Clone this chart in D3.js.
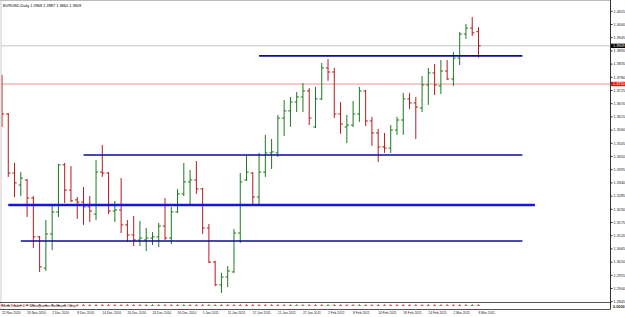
<!DOCTYPE html>
<html>
<head>
<meta charset="utf-8">
<script src="https://cdn.jsdelivr.net/npm/d3@7/dist/d3.min.js"></script>
<style>
body { margin: 0; background: #fff; }
text { font-family: "Liberation Sans", Arial, sans-serif; }
</style>
</head>
<body>
<div id="chart"></div>
<script>
// EURUSD daily bars, 22 Nov 2010 .. 8 Mar 2011
var open = [1.3767, 1.3625, 1.3379, 1.3329, 1.3350, 1.3275, 1.3113, 1.2983, 1.3125, 1.3217,
    1.3413, 1.3308, 1.3267, 1.3258, 1.3238, 1.3208, 1.3383, 1.3379, 1.3221, 1.3225,
    1.3163, 1.3121, 1.3100, 1.3100, 1.3108, 1.3113, 1.3158, 1.3108, 1.3217, 1.3292,
    1.3342, 1.3350, 1.3313, 1.3150, 1.3008, 1.2913, 1.2946, 1.2967, 1.3129, 1.3350,
    1.3379, 1.3279, 1.3383, 1.3463, 1.3463, 1.3608, 1.3638, 1.3675, 1.3696, 1.3721,
    1.3571, 1.3688, 1.3817, 1.3800, 1.3625, 1.3571, 1.3579, 1.3625, 1.3721, 1.3596,
    1.3546, 1.3488, 1.3483, 1.3558, 1.3600, 1.3688, 1.3671, 1.3650, 1.3746, 1.3796,
    1.3742, 1.3804, 1.3771, 1.3858, 1.3958, 1.3983, 1.3968]
var high = [1.3788, 1.3629, 1.3421, 1.3383, 1.3354, 1.3283, 1.3117, 1.3183, 1.3246, 1.3417,
    1.3421, 1.3408, 1.3279, 1.3321, 1.3283, 1.3433, 1.3496, 1.3383, 1.3263, 1.3358,
    1.3183, 1.3200, 1.3179, 1.3150, 1.3133, 1.3171, 1.3275, 1.3238, 1.3313, 1.3421,
    1.3392, 1.3429, 1.3317, 1.3167, 1.3013, 1.2963, 1.2992, 1.3146, 1.3379, 1.3454,
    1.3383, 1.3463, 1.3538, 1.3521, 1.3621, 1.3683, 1.3696, 1.3717, 1.3754, 1.3733,
    1.3738, 1.3838, 1.3854, 1.3817, 1.3675, 1.3621, 1.3679, 1.3738, 1.3725, 1.3613,
    1.3563, 1.3546, 1.3579, 1.3613, 1.3713, 1.3713, 1.3696, 1.3783, 1.3817, 1.3833,
    1.3850, 1.3850, 1.3883, 1.3967, 1.4000, 1.4029, 1.3987]
var low = [1.3571, 1.3363, 1.3279, 1.3283, 1.3196, 1.3067, 1.2967, 1.2971, 1.3058, 1.3196,
    1.3254, 1.3258, 1.3188, 1.3163, 1.3175, 1.3183, 1.3363, 1.3208, 1.3175, 1.3129,
    1.3092, 1.3075, 1.3075, 1.3054, 1.3079, 1.3071, 1.3100, 1.3083, 1.3213, 1.3283,
    1.3246, 1.3292, 1.3125, 1.3004, 1.2908, 1.2879, 1.2904, 1.2963, 1.3088, 1.3346,
    1.3246, 1.3246, 1.3363, 1.3396, 1.3446, 1.3533, 1.3571, 1.3633, 1.3633, 1.3579,
    1.3567, 1.3683, 1.3763, 1.3608, 1.3542, 1.3504, 1.3571, 1.3592, 1.3575, 1.3492,
    1.3425, 1.3463, 1.3463, 1.3538, 1.3538, 1.3646, 1.3521, 1.3633, 1.3663, 1.3704,
    1.3708, 1.3767, 1.3742, 1.3829, 1.3938, 1.3950, 1.3860]
var close = [1.3625, 1.3379, 1.3338, 1.3358, 1.3275, 1.3113, 1.2988, 1.3125, 1.3217, 1.3413,
    1.3308, 1.3263, 1.3258, 1.3238, 1.3221, 1.3383, 1.3379, 1.3221, 1.3225, 1.3163,
    1.3121, 1.3100, 1.3108, 1.3108, 1.3113, 1.3158, 1.3108, 1.3217, 1.3292, 1.3342,
    1.3350, 1.3313, 1.3150, 1.3008, 1.2913, 1.2946, 1.2971, 1.3129, 1.3342, 1.3383,
    1.3279, 1.3383, 1.3463, 1.3467, 1.3608, 1.3638, 1.3675, 1.3696, 1.3721, 1.3608,
    1.3688, 1.3817, 1.3800, 1.3625, 1.3583, 1.3579, 1.3625, 1.3721, 1.3596, 1.3546,
    1.3488, 1.3483, 1.3558, 1.3600, 1.3688, 1.3671, 1.3654, 1.3746, 1.3796, 1.3746,
    1.3804, 1.3771, 1.3858, 1.3958, 1.3983, 1.3963, 1.3909]

// one label every 4 bars
var dateLabels = ["22 Nov 2010", "26 Nov 2010", "2 Dec 2010", "8 Dec 2010", "14 Dec 2010",
    "20 Dec 2010", "24 Dec 2010", "30 Dec 2010", "5 Jan 2011", "11 Jan 2011", "17 Jan 2011",
    "21 Jan 2011", "27 Jan 2011", "2 Feb 2011", "8 Feb 2011", "14 Feb 2011", "18 Feb 2011",
    "24 Feb 2011", "2 Mar 2011", "8 Mar 2011"]

var priceTicks = [1.4055, 1.4000, 1.3945, 1.3890, 1.3835, 1.3780, 1.3725, 1.3670, 1.3615,
    1.3560, 1.3505, 1.3450, 1.3395, 1.3340, 1.3285, 1.3230, 1.3175, 1.3120, 1.3065,
    1.3010, 1.2955, 1.2900, 1.2845]

// horizontal lines drawn on the chart (price, first bar, last bar)
var levelPrice = [1.3867, 1.3454, 1.3246, 1.3096]
var levelFrom = [41, 13, 1, 3]
var levelTo = [83, 83, 85, 83]
var levelWidth = [1.6, 1.6, 2.6, 1.6]

var bidPrice = 1.3909
var alertPrice = 1.3750
var title = "EURUSD,Daily  1.3968 1.3987 1.3860 1.3909"
var footer = "MetaTrader 4 \u00a9 MetaQuotes Software Corp."

var width = 625
var height = 317
var axisX = 610
var plotBottom = 302.5
var subBottom = 309.5

var svg = d3.select("#chart").append("svg")
    .attr("width", width)
    .attr("height", height)
    .style("display", "block")

var xscale = d3.scaleLinear()
    .domain([0, open.length - 1])
    .range([2, 478.5])

var yscale = d3.scaleLinear()
    .domain([1.29, 1.40])
    .range([288, 24])

svg.append("clipPath").attr("id", "plot")
    .append("rect")
    .attr("x", 1).attr("y", 1)
    .attr("width", axisX - 1).attr("height", plotBottom - 1)

var plot = svg.append("g").attr("clip-path", "url(#plot)")

// bid + alert lines
plot.append("line")
    .attr("x1", 0).attr("x2", axisX)
    .attr("y1", yscale(bidPrice)).attr("y2", yscale(bidPrice))
    .attr("stroke", "#c4c4c4").attr("stroke-width", 1)
plot.append("line")
    .attr("x1", 0).attr("x2", axisX)
    .attr("y1", yscale(alertPrice)).attr("y2", yscale(alertPrice))
    .attr("stroke", "#e99494").attr("stroke-width", 1)

// OHLC bars
var bars = plot.selectAll("g.bar")
    .data(open.map(function(d, i) {
        return { i: i, o: d, h: high[i], l: low[i], c: close[i] }
    }))
    .enter()
    .append("g")
    .attr("class", "bar")
    .attr("stroke", function(d) { return d.c >= d.o ? "#1c7a1c" : "#b41c1c" })
    .attr("stroke-width", 1)

bars.append("line")
    .attr("x1", d => xscale(d.i)).attr("x2", d => xscale(d.i))
    .attr("y1", d => yscale(d.h)).attr("y2", d => yscale(d.l))
bars.append("line")
    .attr("x1", d => xscale(d.i) - 2.2).attr("x2", d => xscale(d.i))
    .attr("y1", d => yscale(d.o)).attr("y2", d => yscale(d.o))
bars.append("line")
    .attr("x1", d => xscale(d.i)).attr("x2", d => xscale(d.i) + 2.2)
    .attr("y1", d => yscale(d.c)).attr("y2", d => yscale(d.c))

// drawn levels
plot.selectAll("line.level")
    .data(levelPrice)
    .enter()
    .append("line")
    .attr("class", "level")
    .attr("x1", (d, i) => xscale(levelFrom[i]))
    .attr("x2", (d, i) => xscale(levelTo[i]))
    .attr("y1", d => yscale(d)).attr("y2", d => yscale(d))
    .attr("stroke", (d, i) => levelWidth[i] > 2 ? "#1414e6" : "#0c0c96")
    .attr("stroke-width", (d, i) => levelWidth[i])

// title
svg.append("text")
    .attr("x", 3).attr("y", 6.5)
    .attr("font-size", 3.9)
    .attr("fill", "#000")
    .text(title)

// frame
svg.append("line").attr("x1", 0).attr("x2", axisX).attr("y1", 0.5).attr("y2", 0.5)
    .attr("stroke", "#bbb")
svg.append("line").attr("x1", 1).attr("x2", 1).attr("y1", 0).attr("y2", subBottom)
    .attr("stroke", "#ccc")
svg.append("line").attr("x1", axisX + 0.5).attr("x2", axisX + 0.5).attr("y1", 0).attr("y2", subBottom)
    .attr("stroke", "#333")
svg.append("line").attr("x1", 0).attr("x2", axisX).attr("y1", plotBottom).attr("y2", plotBottom)
    .attr("stroke", "#555")
svg.append("line").attr("x1", 0).attr("x2", axisX).attr("y1", subBottom).attr("y2", subBottom)
    .attr("stroke", "#555")

// price axis
var yaxis = d3.axisRight(yscale)
    .tickValues(priceTicks)
    .tickFormat(d3.format(".4f"))
    .tickSize(2)
    .tickPadding(1)

svg.append("g")
    .attr("class", "axisY")
    .attr("transform", "translate(" + (axisX + 0.5) + ",0)")
    .call(yaxis)
    .call(g => g.select(".domain").remove())
    .call(g => g.selectAll("text").attr("font-size", 3.8).attr("fill", "#222")
        .attr("font-family", "Liberation Sans"))
    .call(g => g.selectAll("line").attr("stroke", "#333"))

// price boxes
var boxes = [[bidPrice, "#000"], [alertPrice, "#ff1010"]]
boxes.forEach(function(b) {
    svg.append("rect")
        .attr("x", axisX + 1).attr("y", yscale(b[0]) - 2.2)
        .attr("width", width - axisX - 1).attr("height", 4.4)
        .attr("fill", b[1])
    svg.append("text")
        .attr("x", axisX + 3).attr("y", yscale(b[0]) + 1.4)
        .attr("font-size", 3.8).attr("fill", "#fff")
        .text(d3.format(".4f")(b[0]))
})

// indicator sub window
var sub = svg.append("g")
sub.selectAll("line.ind")
    .data(open)
    .enter()
    .append("line")
    .attr("class", "ind")
    .attr("x1", (d, i) => xscale(i) - 1.5).attr("x2", (d, i) => xscale(i) + 1.5)
    .attr("y1", 305.5).attr("y2", 305.5)
    .attr("stroke", "#d44").attr("stroke-width", 0.8)
sub.selectAll("line.indt")
    .data(open)
    .enter()
    .append("line")
    .attr("class", "indt")
    .attr("x1", (d, i) => xscale(i)).attr("x2", (d, i) => xscale(i))
    .attr("y1", 304).attr("y2", 305.5)
    .attr("stroke", "#d44").attr("stroke-width", 0.8)
svg.append("text")
    .attr("x", 2).attr("y", 307)
    .attr("font-size", 3.8).attr("fill", "#222")
    .text(footer)
svg.append("text")
    .attr("x", axisX + 3).attr("y", 307.5)
    .attr("font-size", 3.8).attr("font-weight", "bold").attr("fill", "#222")
    .text("0.0000")

// date axis
var xaxis = d3.axisBottom(xscale)
    .tickValues(dateLabels.map((d, i) => i * 4))
    .tickFormat((d, i) => dateLabels[i])
    .tickSize(0)
    .tickPadding(2.5)

svg.append("g")
    .attr("class", "axisX")
    .attr("transform", "translate(0," + subBottom + ")")
    .call(xaxis)
    .call(g => g.select(".domain").remove())
    .call(g => g.selectAll("text").attr("text-anchor", "start").attr("font-size", 3.3)
        .attr("fill", "#222").attr("font-family", "Liberation Sans").attr("dx", -0.5))
</script>
</body>
</html>
